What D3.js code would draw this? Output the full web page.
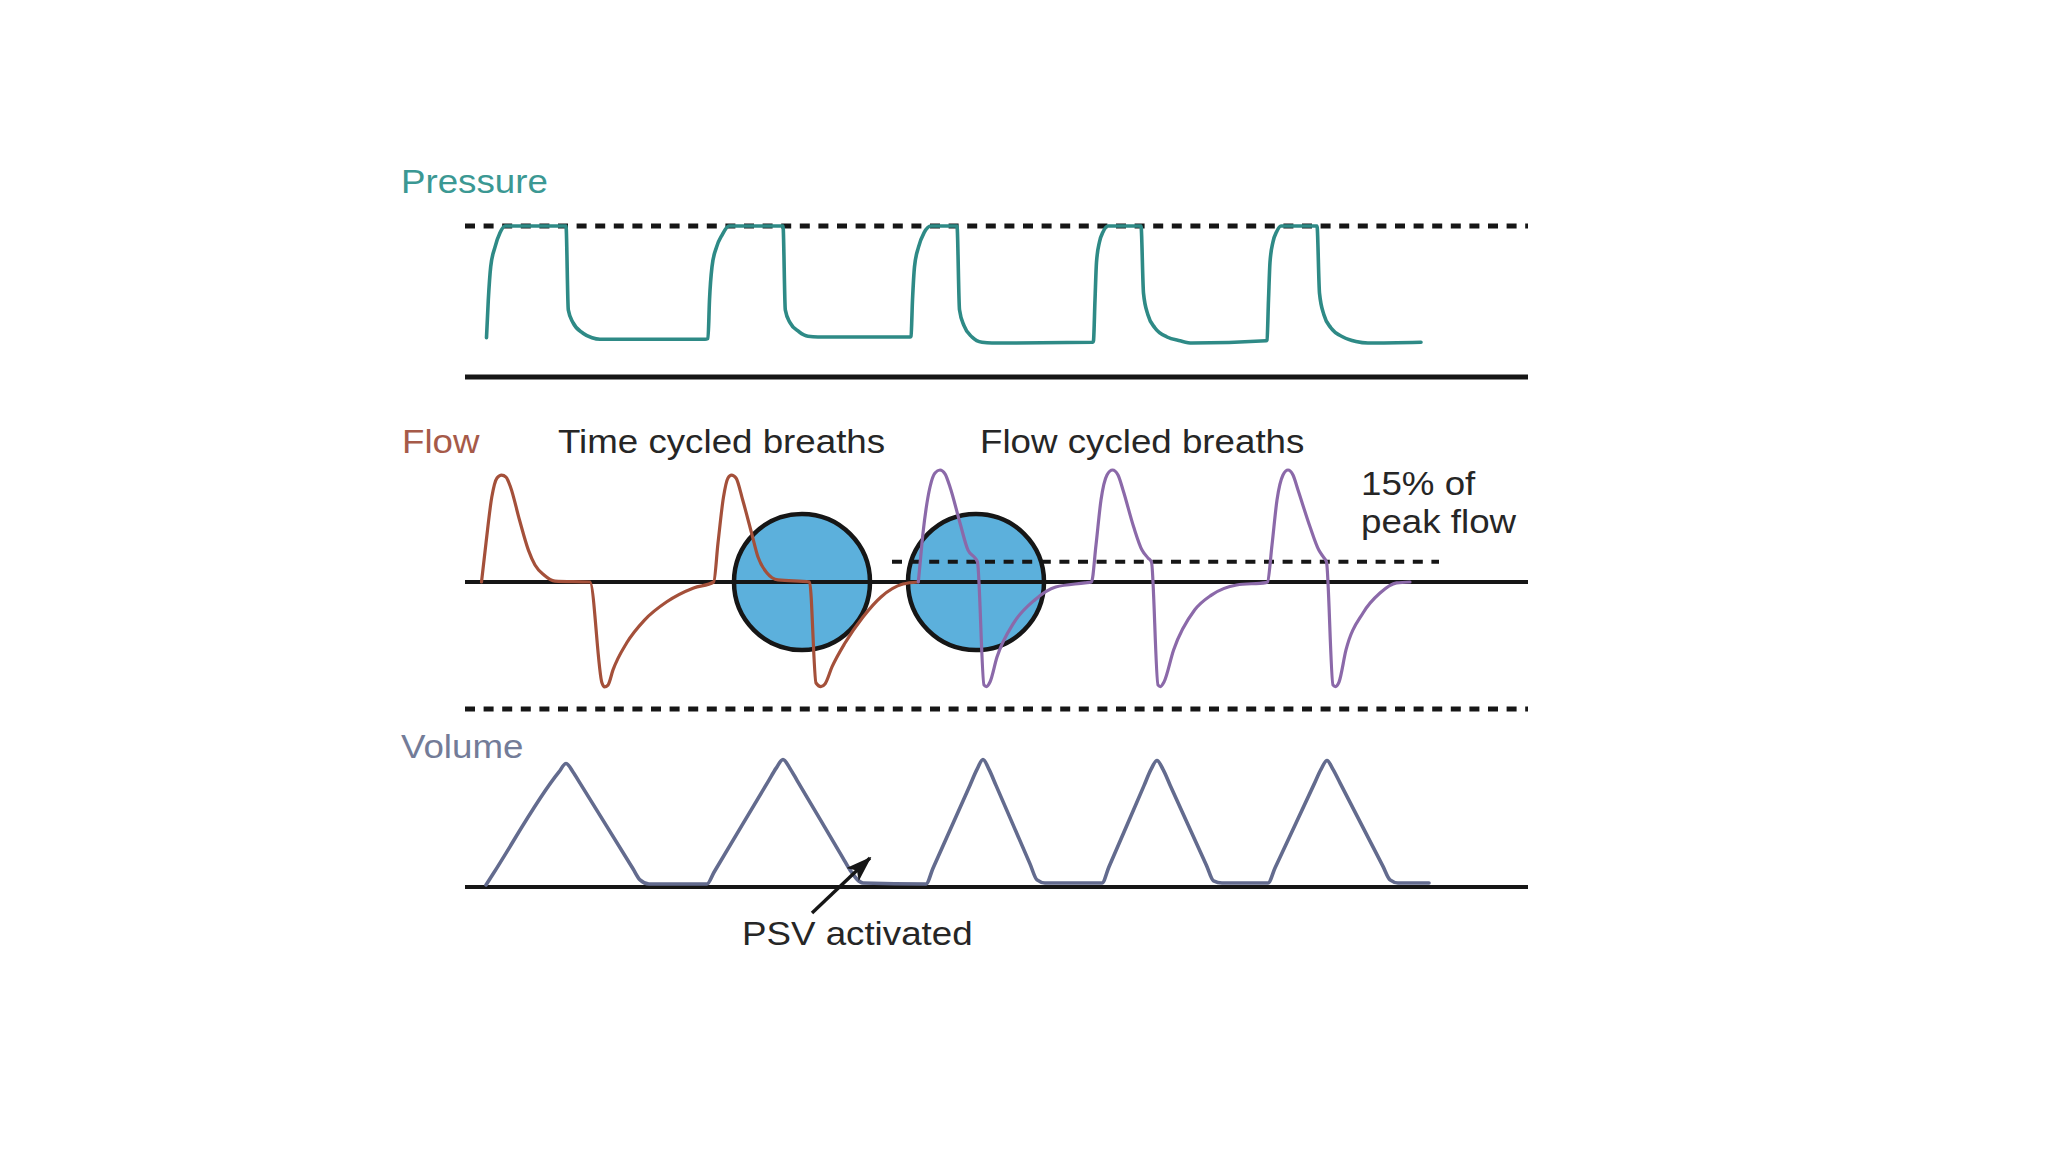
<!DOCTYPE html>
<html>
<head>
<meta charset="utf-8">
<script src="https://cdn.jsdelivr.net/npm/d3@7"></script>
<style>
  body { margin: 0; background: #fff; }
  text { font-family: "Liberation Sans", Arial, Helvetica, sans-serif; }
</style>
</head>
<body>
<div id="chart"></div>
<script>
// data (time in s, pressure cmH2O, flow L/min, volume mL)
const pressureSeries = [
  [0.215, 5.2], [0.233, 10.2], [0.257, 14.6], [0.30, 17.2], [0.35, 19.1], [0.40, 20],
  [1.01, 20], [1.033, 8.9], [1.08, 7.2], [1.18, 5.8], [1.27, 5.2], [1.35, 5.0], [2.40, 5.0],
  [2.43, 5.1], [2.445, 10.2], [2.47, 14.6], [2.515, 17.2], [2.57, 18.8], [2.64, 20],
  [3.18, 20], [3.203, 8.9], [3.25, 7.2], [3.34, 6.0], [3.43, 5.4], [3.53, 5.3], [4.45, 5.3],
  [4.46, 5.4], [4.475, 10.2], [4.495, 14.6], [4.535, 17.2], [4.59, 19.1], [4.66, 20],
  [4.92, 20], [4.945, 8.9], [4.99, 6.8], [5.07, 5.3], [5.17, 4.6], [5.27, 4.5], [6.28, 4.6],
  [6.285, 4.8], [6.30, 10.2], [6.315, 15.2], [6.345, 17.9], [6.38, 19.2], [6.43, 20],
  [6.76, 20], [6.785, 11.1], [6.83, 8.2], [6.90, 6.5], [7.02, 5.3], [7.15, 4.8], [7.27, 4.5], [8.01, 4.8],
  [8.02, 4.9], [8.035, 10.2], [8.05, 15.2], [8.08, 17.9], [8.115, 19.2], [8.16, 20],
  [8.52, 20], [8.545, 11.1], [8.59, 8.2], [8.66, 6.5], [8.78, 5.3], [8.91, 4.7], [9.03, 4.5], [9.56, 4.6]
];

// time cycled breaths (before PSV)
const flowTimeCycled = [
  [0.165, 0], [0.21, 20.9], [0.268, 45.5], [0.32, 55.7], [0.366, 57.3], [0.41, 56.2],
  [0.455, 50.9], [0.545, 33.2], [0.634, 17.1], [0.70, 9.1], [0.79, 3.75], [0.90, 0.5],
  [1.25, 0], [1.37, -54.1], [1.395, -56.2], [1.43, -55.2], [1.48, -47.1], [1.616, -32.7],
  [1.795, -20.4], [2.018, -10.6], [2.286, -3.2], [2.487, 0],
  [2.53, 20.9], [2.585, 45.5], [2.63, 55.7], [2.665, 57.3], [2.71, 55.7], [2.777, 43.9],
  [2.866, 26.2], [2.93, 13.4], [3.02, 4.8], [3.13, 1.1], [3.446, 0],
  [3.51, -54.1], [3.558, -56], [3.60, -54.6], [3.67, -45.5], [3.80, -32.7], [3.98, -18.75],
  [4.16, -8.0], [4.38, -1.1], [4.53, 0]
];

// flow cycled breaths (PSV)
const flowFlowCycled = [
  [4.533, 0], [4.54, 3.75], [4.58, 26.2], [4.65, 50.9], [4.70, 58.4], [4.75, 60], [4.80, 57.9],
  [4.85, 50.9], [4.95, 31.6], [5.03, 17.1], [5.10, 12.9], [5.125, 10.7],
  [5.19, -55.2], [5.215, -56], [5.25, -53.6], [5.32, -40.2], [5.486, -22], [5.697, -9.6],
  [5.907, -2.7], [6.20, -0.5], [6.265, 0],
  [6.31, 19.8], [6.36, 43.9], [6.42, 57.3], [6.475, 60], [6.53, 57.3], [6.58, 49.3],
  [6.686, 29.6], [6.77, 17.1], [6.83, 12.9], [6.865, 10.7],
  [6.93, -55.2], [6.955, -56], [6.99, -53.6], [7.086, -36.4], [7.296, -15], [7.464, -7],
  [7.717, -1.6], [8.01, -0.3],
  [8.025, 0], [8.07, 19.8], [8.12, 43.9], [8.18, 57.3], [8.23, 60], [8.28, 57.3], [8.33, 49.3],
  [8.45, 29.6], [8.538, 17.1], [8.59, 12.9], [8.615, 10.7],
  [8.68, -55.2], [8.705, -56], [8.74, -53.6], [8.81, -36.4], [8.98, -16.6], [9.15, -5.9],
  [9.316, -0.5], [9.45, 0]
];

const volumeSeries = [
  [0.21, 8], [0.28, 51], [0.94, 453], [1.01, 486], [1.08, 453], [1.15, 409], [1.68, 72], [1.75, 28], [1.84, 12], [2.42, 12],
  [2.49, 58], [3.04, 421], [3.11, 467], [3.18, 502], [3.25, 467], [3.32, 420], [3.78, 114], [3.85, 67], [3.98, 16], [4.61, 12],
  [4.68, 74], [5.05, 401], [5.12, 463], [5.18, 502], [5.24, 463], [5.31, 400], [5.65, 91], [5.72, 28], [5.80, 16], [6.37, 16],
  [6.44, 80], [6.79, 399], [6.86, 463], [6.92, 498], [6.98, 463], [7.05, 402], [7.415, 85], [7.485, 24], [7.57, 16], [8.03, 16],
  [8.10, 75], [8.49, 404], [8.56, 463], [8.62, 498], [8.68, 463], [8.75, 410], [9.18, 81], [9.25, 28], [9.33, 16], [9.64, 16]
];

// reference lines
const timeSpan = [0, 10.63];
const pressureTarget = 20;
const flowThreshold = 10.9;          // 15% of peak flow
const flowThresholdSpan = [4.27, 9.74];
const flowDivider = -68;

// highlighted cycling points (time, flow)
const cycleMarks = [[3.37, 0], [5.11, 0]];

// annotation arrow (time, volume): tail -> tip
const psvArrow = [[3.47, -102], [4.05, 114]];

const panelLabels = ["Pressure", "Flow", "Volume"];
const annotationLabels = ["Time cycled breaths", "Flow cycled breaths", "15% of", "peak flow", "PSV activated"];

// layout
const width = 2048, height = 1152;
const colors = {
  pressure: "#2e8a86", pressureLabel: "#3b9893",
  flowTime: "#a4503a", flowLabel: "#a65a49",
  flowPsv: "#8b69a9",
  volume: "#636b8e", volumeLabel: "#737c98",
  circle: "#5cb0dc", ink: "#161616", text: "#262626"
};

const x = d3.scaleLinear().domain([0, 10]).range([465, 1465]);
const yP = d3.scaleLinear().domain([0, 20]).range([377, 226]);
const yF = d3.scaleLinear().domain([0, 60]).range([582, 470]);
const yV = d3.scaleLinear().domain([0, 500]).range([887, 760]);

const svg = d3.select("#chart").append("svg")
  .attr("width", width)
  .attr("height", height);

svg.append("rect").attr("width", width).attr("height", height).attr("fill", "#fff");

const defs = svg.append("defs");
defs.append("marker")
  .attr("id", "arrowhead")
  .attr("markerUnits", "userSpaceOnUse")
  .attr("viewBox", "0 0 26 18")
  .attr("refX", 24).attr("refY", 9)
  .attr("markerWidth", 26).attr("markerHeight", 18)
  .attr("orient", "auto")
  .append("path")
  .attr("d", "M0,0 L26,9 L0,18 L6,9 Z")
  .attr("fill", colors.ink);

function hline(y, t0, t1, w, dashed) {
  svg.append("line")
    .attr("x1", x(t0)).attr("x2", x(t1))
    .attr("y1", y).attr("y2", y)
    .attr("stroke", colors.ink)
    .attr("stroke-width", w)
    .attr("stroke-dasharray", dashed ? dashed : null);
}

// circles sit under the traces
svg.selectAll("circle.cycle")
  .data(cycleMarks)
  .join("circle")
  .attr("class", "cycle")
  .attr("cx", d => x(d[0]))
  .attr("cy", d => yF(d[1]))
  .attr("r", 68)
  .attr("fill", colors.circle)
  .attr("stroke", colors.ink)
  .attr("stroke-width", 4.5);

// pressure panel lines
hline(yP(pressureTarget), timeSpan[0], timeSpan[1], 5, "10 8.6");
hline(yP(0), timeSpan[0], timeSpan[1], 5);

// flow panel lines
hline(yF(0), timeSpan[0], timeSpan[1], 4);
hline(yF(flowThreshold), flowThresholdSpan[0], flowThresholdSpan[1], 4, "10 8.6");
hline(yF(flowDivider), timeSpan[0], timeSpan[1], 5, "10 8.6");

// volume baseline
hline(yV(0), timeSpan[0], timeSpan[1], 4);

const traces = [
  { data: pressureSeries, y: yP, color: colors.pressure, w: 3.6 },
  { data: flowTimeCycled, y: yF, color: colors.flowTime, w: 3.2 },
  { data: flowFlowCycled, y: yF, color: colors.flowPsv, w: 3.2 },
  { data: volumeSeries, y: yV, color: colors.volume, w: 3.6 }
];

traces.forEach(s => {
  const line = d3.line()
    .x(d => x(d[0]))
    .y(d => s.y(d[1]))
    .curve(d3.curveMonotoneX);
  svg.append("path")
    .datum(s.data)
    .attr("d", line)
    .attr("fill", "none")
    .attr("stroke", s.color)
    .attr("stroke-width", s.w)
    .attr("stroke-linejoin", "round")
    .attr("stroke-linecap", "round");
});

// arrow
svg.append("line")
  .attr("x1", x(psvArrow[0][0])).attr("y1", yV(psvArrow[0][1]))
  .attr("x2", x(psvArrow[1][0])).attr("y2", yV(psvArrow[1][1]))
  .attr("stroke", colors.ink)
  .attr("stroke-width", 3.4)
  .attr("marker-end", "url(#arrowhead)");

// text (source art is slightly stretched horizontally)
function label(txt, px, py, color) {
  svg.append("text")
    .attr("transform", `translate(${px},${py}) scale(1.08,1)`)
    .attr("font-size", 34)
    .attr("fill", color)
    .text(txt);
}

label(panelLabels[0], 401, 193, colors.pressureLabel);
label(panelLabels[1], 402, 453, colors.flowLabel);
label(panelLabels[2], 401, 758, colors.volumeLabel);

label(annotationLabels[0], 558, 453, colors.text);
label(annotationLabels[1], 980, 453, colors.text);
label(annotationLabels[2], 1361, 495, colors.text);
label(annotationLabels[3], 1361, 533, colors.text);
label(annotationLabels[4], 742, 945, colors.text);
</script>
</body>
</html>
